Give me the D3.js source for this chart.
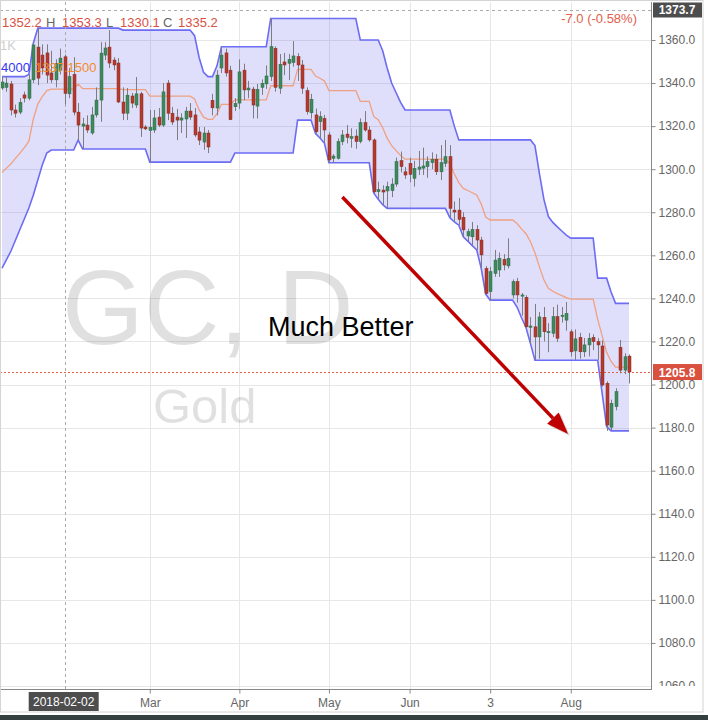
<!DOCTYPE html>
<html><head><meta charset="utf-8">
<script src="https://cdn.jsdelivr.net/npm/d3@7"></script>
<style>
body{margin:0;background:#fff;}
svg{display:block;font-family:"Liberation Sans",Arial,sans-serif;}
</style>
</head><body>
<svg id="chart" width="708" height="720"></svg>
<script>
// ---------- DATA ----------
const opens = [1337.7,1338,1339.6,1327.5,1326.5,1334.5,1333,1341.5,1356.7,1353,1354,1344.7,1341.5,1346,1352.2,1335,1344,1326.5,1320,1320.5,
1316.8,1325.2,1332.1,1353,1356.7,1350.7,1349.3,1331.2,1326,1334,1329.8,1335,1319.6,1318,1318.2,1324.2,1320.5,1340,1326,1324.2,
1322.8,1323.3,1327,1325.2,1317.3,1312.6,1316.8,1332,1328.4,1347,1354,1346,1329,1330.7,1346,1336.8,1337.2,1329.3,1338,1339.6,
1343,1356.1,1337.6,1349.8,1349.2,1349.5,1352.3,1348.4,1336.5,1326.2,1325.2,1322.1,1323.6,1315.9,1305,1305,1312.8,1316.3,1314.3,1315.4,
1312.8,1321.6,1318.2,1313.6,1289.6,1290.3,1289.9,1290,1293.1,1304,1298.8,1302.7,1295.8,1300,1300.5,1301.2,1303,1304.6,1298.8,1302.7,
1305.8,1281,1281,1277.7,1269,1268.6,1272,1267.1,1253.9,1243.1,1251.6,1253.2,1258.1,1255.1,1241.6,1247.8,1241.2,1240.5,1226.6,1226.8,
1222.1,1231.2,1224.2,1223.8,1231.5,1231.6,1229.9,1224.5,1215.6,1221.9,1215.2,1218.4,1221.9,1219.9,1217.9,1200.6,1180.2,1189.7,1217.3,1206.7,
1213.2];
const highs = [1342.8,1343,1341,1330,1333,1336,1344,1358.6,1365.5,1358,1358,1355,1351,1356,1353.3,1347,1352,1330.7,1323.9,1325,
1328.9,1338,1359,1359,1364.6,1352,1351.6,1338,1337.7,1335.4,1342.8,1335.9,1320.5,1327.5,1327.5,1328.4,1340,1341.4,1328.9,1328,
1326,1328.9,1330.7,1328.4,1319.6,1319.6,1318.2,1335,1346,1356.7,1356,1348,1333,1351,1349,1341,1338.3,1339.6,1341.7,1348.2,
1370,1357,1353.5,1354,1353.5,1359.5,1353.9,1350.7,1338,1335,1328.2,1326.9,1325.2,1317.2,1307,1314.3,1318.2,1320.5,1319,1318.5,
1323.6,1327,1320,1314.3,1294.2,1292.5,1294.2,1295.8,1305.4,1308.2,1301,1305.4,1303.9,1308.5,1310,1306,1307.8,1307,1311.2,1313.6,
1311.2,1285,1286.6,1280,1272.4,1275.5,1274,1268.6,1255,1254.6,1262.5,1261.3,1260.6,1267.9,1248.8,1249.5,1242.5,1241.5,1231.3,1237.4,
1233.7,1236,1228.5,1236,1237.1,1236,1238.3,1225.6,1225.6,1224,1221.6,1223.9,1223.3,1221.5,1220.5,1201.5,1193,1198.3,1220.7,1214.5,
1214];
const lows = [1336.8,1336,1325,1324,1325.5,1331,1332,1340,1339,1344,1340,1340,1338,1344,1330.1,1333,1325,1313.5,1309.4,1316.8,
1316,1324,1322,1350.7,1347,1346,1330.7,1322.8,1322.8,1328.4,1328.4,1315,1318.2,1303.3,1316.8,1319.6,1319.6,1322.8,1320.5,1313.5,
1316.8,1314.5,1322.8,1315,1311.2,1309,1307.5,1325,1325,1344.7,1343,1322.8,1327,1328,1332,1333,1323.6,1323.5,1334.5,1337.3,
1341,1336,1335,1343.7,1341.4,1347.6,1341,1335,1325.4,1323.5,1316.5,1314.5,1312,1303,1303,1304.5,1311.2,1312,1310,1309.5,
1312,1317.4,1312.8,1288.6,1286,1283.5,1281.8,1287,1291.9,1298.5,1295.5,1293.9,1291.9,1297.3,1297.3,1296,1300,1297.3,1295,1301,
1277.5,1275.5,1274,1268.6,1266.6,1264.5,1262.5,1254,1242,1239.2,1250,1250,1253,1253.9,1240,1238,1232,1226,1219,1211.4,
1212,1220,1215,1222,1219.8,1228.8,1225,1213,1211.5,1212,1212.8,1213,1216,1211.5,1199,1178.5,1178.5,1188,1205.2,1204.8,
1200.5];
const closes = [1340.5,1340,1327.5,1326,1331,1333,1341.5,1357.7,1342.3,1347,1343.7,1341.5,1349,1351.6,1335.2,1343,1326.5,1320.5,1321,1318.2,
1325.2,1332.1,1353.9,1356.3,1349.3,1348.4,1331.2,1326,1334.4,1330.7,1335,1319.1,1318.7,1319.5,1323.8,1320.5,1335.9,1326,1321.9,1322.8,
1323.8,1327,1324.2,1315.9,1313.5,1316.8,1310.3,1328.5,1343.7,1353,1344.7,1323,1330.5,1345.2,1336.8,1337.7,1329.8,1337.1,1339.9,1343.3,
1356.9,1338,1348.7,1348.4,1351,1352.6,1348.4,1337.6,1326.7,1332.5,1317.4,1324.4,1318.2,1304.3,1306.1,1312.8,1315.9,1314.8,1315.1,1312.8,
1321.6,1318.2,1313.6,1289.5,1290.5,1289.4,1291.9,1293.1,1303.5,1301.2,1297.3,1297.6,1300.4,1301,1301.5,1303.5,1304.6,1298.8,1303,1305.8,
1281.8,1280.1,1276.7,1271.8,1271,1272,1267.1,1260.2,1242.3,1252.4,1257.8,1258.6,1255.5,1258.6,1247.8,1241.6,1241.6,1226.8,1227.2,1222.1,
1231.4,1224.5,1224.6,1231.5,1221.5,1232.2,1233.1,1215.2,1221.2,1215.2,1218.4,1221.5,1219.9,1218.4,1199.8,1181.2,1191.3,1196.7,1206.7,1212.9,
1205.8];
// Donchian channel (20)
const upperBand = [1343,1343,1343,1343,1343,1343,1344,1358.6,
1365.5,1365.5,1365.5,1365.5,1365.5,1365.5,1365.5,1365.5,1365.5,1365.5,1365.5,1365.5,1365.5,1365.5,1365.5,1365.5,1365.5,1365.5,1365.5,
1364.6,1364.6,1364.6,1364.6,1364.6,1364.6,1364.6,1364.6,1364.6,1364.6,1364.6,1364.6,1364.6,1364.6,1364.6,1364.6,
1362,1352,1345,1343,1343,1348,
1356.9,1356.9,1356.9,1356.9,1356.9,1356.9,1356.9,1356.9,1356.9,1356.9,1356.9,
1370,1370,1370,1370,1370,1370,1370,1370,1370,1370,1370,1370,1370,1370,1370,1370,1370,1370,1370,1370,
1360,1360,1360,1360,1360,1355,1347,1340,1335.5,1331,
1327.5,1327.5,1327.5,1327.5,1327.5,1327.5,1327.5,1327.5,1327.5,1327.5,1327.5,1320,
1313.6,1313.6,1313.6,1313.6,1313.6,1313.6,1313.6,1313.6,1313.6,1313.6,1313.6,1313.6,1313.6,1313.6,1313.6,1313.6,1313.6,
1311,1298,1286,1278,1275.3,1273.2,1271.3,1269.4,
1268,1268,1268,1268,1268,1268,1249.4,1249.4,1249.4,1243,1237.7,1237.7,1237.7,1237.7];
const lowerBand = [1254,1258,1262,1267,1272,1277,1282,1288,1295,1302,1307.5,
1308.9,1308.9,1308.9,1308.9,1308.9,1308.9,1313.5,
1309.4,1309.4,1309.4,1309.4,1309.4,1309.4,1309.4,1309.4,1309.4,1309.4,1309.4,1309.4,1309.4,1309.4,1309.4,
1303.3,1303.3,1303.3,1303.3,1303.3,1303.3,1303.3,1303.3,1303.3,1303.3,1303.3,1303.3,1303.3,1303.3,1303.3,1303.3,1303.3,1303.3,1303.3,
1307.5,1307.5,1307.5,1307.5,1307.5,1307.5,1307.5,1307.5,1307.5,1307.5,1307.5,1307.5,1307.5,1307.5,
1322.8,1322.8,1322.8,1322.8,1316.5,1314.5,1312,
1303,1303,1303,1303,1303,1303,1303,1303,1303,1303,
1289,1286,1283.5,
1281.8,1281.8,1281.8,1281.8,1281.8,1281.8,1281.8,1281.8,1281.8,1281.8,1281.8,1281.8,1281.8,1281.8,
1277.5,1275.5,1274,1268.6,1266.6,1264.5,1262.5,1254,1242,
1239.2,1239.2,1239.2,1239.2,1239.2,1239.2,1236,1231,1226.5,1219,
1211.3,1211.3,1211.3,1211.3,1211.3,1211.3,1211.3,1211.3,1211.3,1211.3,1211.3,1211.3,1211.3,1211.3,1211.3,
1196,1180.5,1178.5,1178.5,1178.5,1178.5,1178.5];
const priceTicks = [1060,1080,1100,1120,1140,1160,1180,1200,1220,1240,1260,1280,1300,1320,1340,1360];
const monthTickBars = [33,53,73,91,109,127];
const monthTickLabels = ["Mar","Apr","May","Jun","3","Aug"];
const crosshairBar = 14, crosshairDate = "2018-02-02", crosshairPrice = 1373.7;
const lastPrice = 1205.8;
const ohlcLabels = ["H","L","C"];
const ohlcValues = ["1352.2","1353.3","1330.1","1335.2"];
const changeText = "-7.0 (-0.58%)";
const donchianText = ["4000","1337.1500"];
const arrowFrom = {bar:76, price:1287.1}, arrowTo = {bar:126.4, price:1177.0};
const noteText = "Much Better", noteAt = {bar:59.4, price:1222.6};

// ---------- LAYOUT ----------
const svg = d3.select("#chart");
const plotL = 0, plotR = 651, plotT = 2, plotB = 689;
const x = d3.scaleLinear().domain([0, opens.length-1]).range([2, 629]);
const y = d3.scaleLinear().domain([1060, 1360]).range([686, 40]);
const red = "#d9503f";

svg.append("rect").attr("width",708).attr("height",720).attr("fill","#fff");
const defs = svg.append("defs");
defs.append("clipPath").attr("id","plotClip").append("rect")
  .attr("x",plotL).attr("y",plotT).attr("width",plotR-plotL).attr("height",plotB-plotT);
defs.append("clipPath").attr("id","axisClip").append("rect")
  .attr("x",plotR).attr("y",0).attr("width",60).attr("height",686);

const plot = svg.append("g").attr("clip-path","url(#plotClip)");

// grid
plot.append("g").selectAll("line").data(priceTicks).join("line")
  .attr("x1",plotL).attr("x2",plotR)
  .attr("y1",d=>Math.round(y(d))+0.5).attr("y2",d=>Math.round(y(d))+0.5)
  .attr("stroke","#e7e7e7");
plot.append("g").selectAll("line").data(monthTickBars).join("line")
  .attr("x1",d=>Math.round(x(d))+0.5).attr("x2",d=>Math.round(x(d))+0.5)
  .attr("y1",plotT).attr("y2",plotB).attr("stroke","#e7e7e7");

// watermark
plot.append("text").attr("x",62).attr("y",344).attr("font-size",105)
  .attr("fill","rgba(0,0,0,0.12)").text("GC, D");
plot.append("text").attr("x",153).attr("y",423).attr("font-size",49)
  .attr("fill","rgba(0,0,0,0.12)").text("Gold");

// Donchian channel
const idx = d3.range(opens.length);
plot.append("path").datum(idx)
  .attr("d", d3.area().x(i=>x(i)).y0(i=>y(lowerBand[i])).y1(i=>y(upperBand[i])))
  .attr("fill","rgba(95,95,240,0.2)");
const line = acc => d3.line().x(i=>x(i)).y(i=>y(acc(i)));
plot.append("path").datum(idx).attr("d", line(i=>(upperBand[i]+lowerBand[i])/2))
  .attr("fill","none").attr("stroke","#f0a07e").attr("stroke-width",1.3);
plot.append("path").datum(idx).attr("d", line(i=>upperBand[i]))
  .attr("fill","none").attr("stroke","#6c6cf4").attr("stroke-width",1.6);
plot.append("path").datum(idx).attr("d", line(i=>lowerBand[i]))
  .attr("fill","none").attr("stroke","#6c6cf4").attr("stroke-width",1.6);

// crosshair + last price line
plot.append("line").attr("x1",Math.round(x(crosshairBar))+0.5).attr("x2",Math.round(x(crosshairBar))+0.5)
  .attr("y1",plotT).attr("y2",plotB).attr("stroke","#aaa").attr("stroke-dasharray","3,3");
plot.append("line").attr("x1",plotL).attr("x2",plotR)
  .attr("y1",Math.round(y(crosshairPrice))+0.5).attr("y2",Math.round(y(crosshairPrice))+0.5)
  .attr("stroke","#aaa").attr("stroke-dasharray","3,3");
plot.append("line").attr("x1",plotL).attr("x2",plotR)
  .attr("y1",Math.round(y(lastPrice))+0.5).attr("y2",Math.round(y(lastPrice))+0.5)
  .attr("stroke","#e0604a").attr("stroke-dasharray","2,2");

// candles
const cd = idx.map(i=>({i,o:opens[i],h:highs[i],l:lows[i],c:closes[i]}));
const cg = plot.append("g");
cg.selectAll("line").data(cd).join("line")
  .attr("x1",d=>Math.round(x(d.i))+0.5).attr("x2",d=>Math.round(x(d.i))+0.5)
  .attr("y1",d=>y(d.h)).attr("y2",d=>y(d.l)).attr("stroke","#7d7d7d").attr("stroke-width",1);
cg.selectAll("rect").data(cd).join("rect")
  .attr("x",d=>Math.round(x(d.i))-1).attr("width",3)
  .attr("y",d=>y(Math.max(d.o,d.c)))
  .attr("height",d=>Math.max(1.2, Math.abs(y(d.o)-y(d.c))))
  .attr("fill",d=>d.c>=d.o?"#3f8a5c":"#b43a2d")
  .attr("stroke",d=>d.c>=d.o?"#2d6a44":"#8a2a20").attr("stroke-width",0.5);

// annotation arrow
const ax1=x(arrowFrom.bar), ay1=y(arrowFrom.price), ax2=x(arrowTo.bar), ay2=y(arrowTo.price);
const ang=Math.atan2(ay2-ay1, ax2-ax1), hl=22, hw=8;
const bx=ax2-hl*Math.cos(ang), by=ay2-hl*Math.sin(ang);
const head=[[ax2,ay2],[bx+hw*Math.sin(ang),by-hw*Math.cos(ang)],[bx-hw*Math.sin(ang),by+hw*Math.cos(ang)]];
const ag = svg.append("g");
ag.append("line").attr("x1",ax1+2).attr("y1",ay1+2).attr("x2",bx+2).attr("y2",by+2)
  .attr("stroke","rgba(0,0,0,0.15)").attr("stroke-width",3.5);
ag.append("polygon").attr("points",head.map(p=>[p[0]+2,p[1]+2].join(",")).join(" ")).attr("fill","rgba(0,0,0,0.15)");
ag.append("line").attr("x1",ax1).attr("y1",ay1).attr("x2",bx).attr("y2",by)
  .attr("stroke","#c00000").attr("stroke-width",3.5);
ag.append("polygon").attr("points",head.map(p=>p.join(",")).join(" ")).attr("fill","#c00000");
svg.append("text").attr("x",x(noteAt.bar)).attr("y",y(noteAt.price)).attr("font-size",27)
  .attr("fill","#000").text(noteText);

// legend texts
const lg = svg.append("g").attr("font-size",13);
const lt = lg.append("text").attr("y",26.5);
lt.append("tspan").attr("x",2).attr("fill",red).text(ohlcValues[0]);
lt.append("tspan").attr("x",46).attr("fill","#666").text(ohlcLabels[0]);
lt.append("tspan").attr("x",62).attr("fill",red).text(ohlcValues[1]);
lt.append("tspan").attr("x",106).attr("fill","#666").text(ohlcLabels[1]);
lt.append("tspan").attr("x",120).attr("fill",red).text(ohlcValues[2]);
lt.append("tspan").attr("x",163).attr("fill","#666").text(ohlcLabels[2]);
lt.append("tspan").attr("x",178).attr("fill",red).text(ohlcValues[3]);
lg.append("text").attr("x",0).attr("y",50).attr("fill","#cfcfcf").text("1K");
lg.append("text").attr("x",1).attr("y",72).attr("fill","#3535ee").text(donchianText[0]);
lg.append("text").attr("x",35).attr("y",72).attr("fill","#f28c28").text(donchianText[1]);
lg.append("text").attr("x",637).attr("y",22.5).attr("text-anchor","end").attr("fill","#e0604a").text(changeText);

// right price axis (clip applied on an untransformed wrapper)
const yaWrap = svg.append("g").attr("clip-path","url(#axisClip)");
const ya = yaWrap.append("g").attr("transform",`translate(${plotR+0.5},0)`);
ya.call(d3.axisRight(y).tickValues(priceTicks).tickFormat(d3.format(".1f")).tickSize(4).tickPadding(3));
ya.select(".domain").remove();
ya.selectAll("line").attr("stroke","#888");
ya.selectAll("text").attr("fill","#666").attr("font-size",12).attr("font-family","Liberation Sans, Arial, sans-serif");
svg.append("line").attr("x1",plotR+0.5).attr("x2",plotR+0.5).attr("y1",plotT).attr("y2",plotB)
  .attr("stroke","#888");

// bottom axis
const xa = svg.append("g").attr("transform",`translate(0,${plotB+0.5})`);
xa.call(d3.axisBottom(x).tickValues(monthTickBars).tickFormat((d,i)=>monthTickLabels[i]).tickSize(4).tickPadding(5));
xa.select(".domain").attr("d",`M0,0H${plotR+1}`).attr("stroke","#888");
xa.selectAll("line").attr("stroke","#888");
xa.selectAll("text").attr("fill","#666").attr("font-size",12).attr("font-family","Liberation Sans, Arial, sans-serif");

// crosshair labels
const cx = x(crosshairBar);
svg.append("rect").attr("x",cx-36).attr("y",692).attr("width",70).attr("height",19).attr("fill","#4d4d4d");
svg.append("text").attr("x",cx-1).attr("y",706).attr("text-anchor","middle").attr("fill","#fff")
  .attr("font-size",12).text(crosshairDate);
svg.append("rect").attr("x",plotR+2).attr("y",y(crosshairPrice)-8).attr("width",49).attr("height",15).attr("fill","#4d4d4d");
svg.append("text").attr("x",plotR+26).attr("y",y(crosshairPrice)+4).attr("text-anchor","middle").attr("fill","#fff")
  .attr("font-size",12).attr("font-weight","bold").text(crosshairPrice.toFixed(1));
svg.append("rect").attr("x",plotR+2).attr("y",y(lastPrice)-8).attr("width",49).attr("height",16).attr("fill",red);
svg.append("text").attr("x",plotR+26).attr("y",y(lastPrice)+4.5).attr("text-anchor","middle").attr("fill","#fff")
  .attr("font-size",12).attr("font-weight","bold").text(lastPrice.toFixed(1));

// frame
svg.append("rect").attr("x",0.5).attr("y",0.5).attr("width",702.5).attr("height",711.5)
  .attr("fill","none").attr("stroke","#d4d4d4");
svg.append("rect").attr("x",0).attr("y",715).attr("width",708).attr("height",5).attr("fill","#34403f");
</script>
</body></html>
